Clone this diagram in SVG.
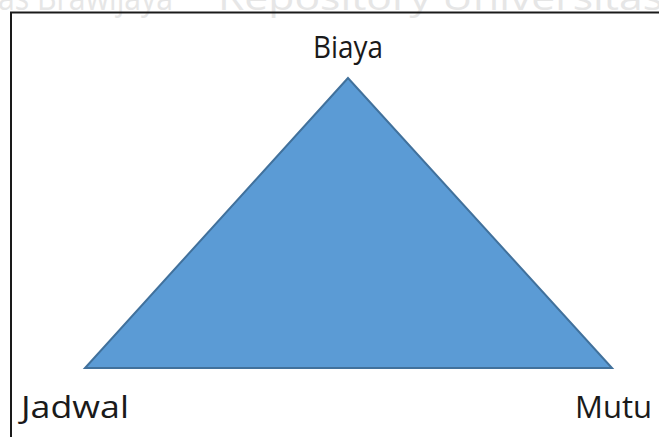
<svg xmlns="http://www.w3.org/2000/svg" width="659" height="437" viewBox="0 0 659 437">
  <style>
    .lbl { font-family: "Open Sans", "Noto Sans", "Liberation Sans", sans-serif; font-size: 31px; fill: #1a1a1a; }
    .wm { font-family: "Open Sans", "Noto Sans", "Liberation Sans", sans-serif; font-size: 34px; fill: #e6e6e6; }
  </style>
  <rect x="0" y="0" width="659" height="437" fill="#ffffff"/>
  <g id="watermark">
    <text class="wm" x="-2" y="10" textLength="175" lengthAdjust="spacingAndGlyphs">as Brawijaya</text>
    <text class="wm" x="218" y="10" textLength="445" lengthAdjust="spacingAndGlyphs">Repository Universitas</text>
  </g>
  <g id="frame">
    <path d="M11,440 L11,12.5 L662,12.5" fill="none" stroke="#1a1a1a" stroke-width="2"/>
  </g>
  <g id="triangle">
    <polygon points="348,78 85,368 612,368" fill="#5b9bd5" stroke="#41719c" stroke-width="2" stroke-linejoin="miter"/>
  </g>
  <g id="node-biaya">
    <text class="lbl" x="313" y="58" textLength="70" lengthAdjust="spacingAndGlyphs">Biaya</text>
  </g>
  <g id="node-jadwal">
    <text class="lbl" x="21" y="418" textLength="108" lengthAdjust="spacingAndGlyphs">Jadwal</text>
  </g>
  <g id="node-mutu">
    <text class="lbl" x="575" y="418" textLength="77" lengthAdjust="spacingAndGlyphs">Mutu</text>
  </g>
  <g id="connectors"></g>
</svg>
